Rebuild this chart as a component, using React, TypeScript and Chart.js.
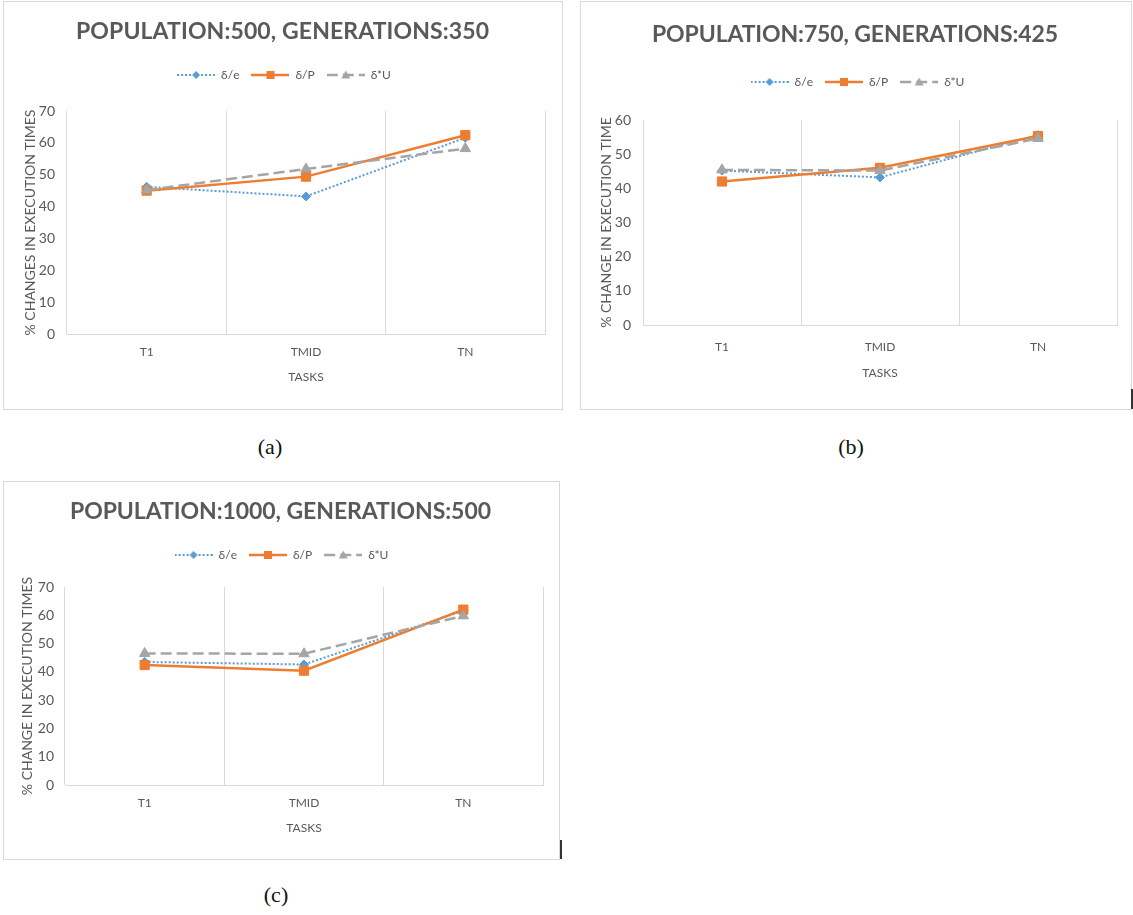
import React, { useEffect, useRef } from 'react';
import { Chart, registerables } from 'chart.js';

Chart.register(...registerables);

// ---------- data ----------
const categories = ['T1', 'TMID', 'TN'];
const seriesNames = ['δ/e', 'δ/P', 'δ*U'];
const xAxisTitle = 'TASKS';

const titleA = 'POPULATION:500, GENERATIONS:350';
const yTitleA = '% CHANGES IN EXECUTION TIMES';
const yMaxA = 70;
const eA = [46.2, 43.2, 61.6];
const pA = [45.0, 49.4, 62.4];
const uA = [45.2, 51.8, 58.2];

const titleB = 'POPULATION:750, GENERATIONS:425';
const yTitleB = '% CHANGE IN EXECUTION TIME';
const yMaxB = 60;
const eB = [45.2, 43.2, 55.6];
const pB = [42.0, 46.0, 55.3];
const uB = [45.4, 45.2, 54.6];

const titleC = 'POPULATION:1000, GENERATIONS:500';
const yTitleC = '% CHANGE IN EXECUTION TIMES';
const yMaxC = 70;
const eC = [43.5, 42.6, 61.6];
const pC = [42.4, 40.4, 62.0];
const uC = [46.5, 46.4, 59.8];

const yStep = 10;
const captions = ['(a)', '(b)', '(c)'];

// ---------- styles ----------
const FONT = "Lato, 'Open Sans', sans-serif";
const TEXT = '#595959';
const GRID = '#d9d9d9';

const seriesStyles = [
  { color: '#5B9BD5', width: 2, dash: [2, 2], point: 'rectRot', radius: 4.5, order: 2 },
  { color: '#ED7D31', width: 2.5, dash: [], point: 'rect', radius: 6.5, order: 1 },
  { color: '#A5A5A5', width: 2.5, dash: [11, 5], point: 'triangle', radius: 6, order: 0 },
];

function makeIcon(s: any) {
  const c = document.createElement('canvas');
  c.width = 38;
  c.height = 14;
  const g = c.getContext('2d')!;
  g.strokeStyle = s.color;
  g.lineWidth = s.width;
  g.setLineDash(s.dash);
  g.beginPath();
  g.moveTo(0, 7);
  g.lineTo(38, 7);
  g.stroke();
  g.setLineDash([]);
  g.fillStyle = s.color;
  g.beginPath();
  if (s.point === 'rectRot') {
    g.moveTo(19, 3);
    g.lineTo(23, 7);
    g.lineTo(19, 11);
    g.lineTo(15, 7);
  } else if (s.point === 'rect') {
    g.rect(15, 3, 8, 8);
  } else {
    g.moveTo(19, 2.5);
    g.lineTo(23.5, 10.5);
    g.lineTo(14.5, 10.5);
  }
  g.closePath();
  g.fill();
  return c;
}

const spacedTitle = {
  id: 'spacedTitle',
  afterDraw(chart: any, _args: any, opts: any) {
    const ctx = chart.ctx;
    ctx.save();
    ctx.font = `bold ${opts.size}px ${FONT}`;
    ctx.fillStyle = TEXT;
    ctx.textBaseline = 'middle';
    ctx.textAlign = 'left';
    (ctx as any).letterSpacing = '0px';
    const base = ctx.measureText(opts.text).width;
    const n = Array.from(opts.text as string).length;
    const ls = (opts.width - base) / (n - 1);
    (ctx as any).letterSpacing = ls + 'px';
    ctx.fillText(opts.text, opts.cx - opts.width / 2, opts.cy);
    ctx.restore();
  },
};

const specA = {
  title: titleA, yTitle: yTitleA, yMax: yMaxA, series: [eA, pA, uA],
  w: 558, h: 407, cx: 278.5, cy: 30, tw: 413, tsize: 23,
  padTop: 55, spacer: 20, padL: 19, padR: 17, yWidth: 44, yTitlePad: 0, yTickPad: 12,
  xHeight: 75, xTickPad: 10.8, xTitlePb: 24.8,
};
const specB = {
  title: titleB, yTitle: yTitleB, yMax: yMaxB, series: [eB, pB, uB],
  w: 550, h: 407, cx: 274, cy: 33, tw: 406, tsize: 23,
  padTop: 62, spacer: 22, padL: 17, padR: 14, yWidth: 45, yTitlePad: 1, yTickPad: 12,
  xHeight: 84, xTickPad: 14.8, xTitlePb: 28.8,
};
const specC = {
  title: titleC, yTitle: yTitleC, yMax: yMaxC, series: [eC, pC, uC],
  w: 555, h: 377, cx: 276.5, cy: 30, tw: 421, tsize: 23,
  padTop: 55, spacer: 16, padL: 16, padR: 16, yWidth: 45, yTitlePad: 0, yTickPad: 11,
  xHeight: 74, xTickPad: 10.8, xTitlePb: 23.8,
};

function buildConfig(spec: any): any {
  const icons = seriesStyles.map(makeIcon);
  return {
    type: 'line',
    data: {
      labels: categories,
      datasets: spec.series.map((vals: number[], i: number) => {
        const s = seriesStyles[i];
        return {
          label: seriesNames[i],
          data: vals,
          borderColor: s.color,
          backgroundColor: s.color,
          borderWidth: s.width,
          borderDash: s.dash,
          tension: 0,
          fill: false,
          pointStyle: s.point,
          pointRadius: s.radius,
          pointBackgroundColor: s.color,
          pointBorderColor: s.color,
          pointBorderWidth: 1,
          order: s.order,
        };
      }),
    },
    options: {
      responsive: false,
      animation: false,
      events: [],
      layout: { padding: { top: spec.padTop, left: spec.padL, right: spec.padR, bottom: 0 } },
      scales: {
        x: {
          type: 'category',
          offset: true,
          grid: { display: true, offset: true, color: GRID, lineWidth: 1, drawTicks: false },
          border: { display: true, color: GRID, width: 1 },
          ticks: { color: TEXT, font: { family: FONT, size: 12 }, padding: spec.xTickPad, maxRotation: 0 },
          title: {
            display: true, text: xAxisTitle, color: TEXT,
            font: { family: FONT, size: 12, lineHeight: 1.2 },
            padding: { top: 0, bottom: spec.xTitlePb },
          },
          afterFit: (s: any) => { s.height = spec.xHeight; },
        },
        y: {
          min: 0,
          max: spec.yMax,
          grid: { display: false, drawTicks: false },
          border: { display: false },
          ticks: { stepSize: yStep, color: TEXT, font: { family: FONT, size: 14 }, padding: spec.yTickPad },
          title: {
            display: true, text: spec.yTitle, color: TEXT,
            font: { family: FONT, size: 14, lineHeight: 1 },
            padding: { top: spec.yTitlePad, bottom: 0 },
          },
          afterFit: (s: any) => { s.width = spec.yWidth; },
        },
      },
      plugins: {
        tooltip: { enabled: false },
        title: { display: false },
        subtitle: {
          display: true, text: '', weight: 500,
          font: { size: 1, lineHeight: 0 },
          padding: { top: spec.spacer, bottom: 0 },
        },
        legend: {
          display: true,
          position: 'top',
          labels: {
            usePointStyle: true,
            pointStyleWidth: 38,
            padding: 12,
            color: TEXT,
            font: { family: FONT, size: 12 },
            generateLabels: (chart: any) =>
              chart.data.datasets.map((ds: any, i: number) => ({
                text: ds.label,
                pointStyle: icons[i],
                fillStyle: seriesStyles[i].color,
                strokeStyle: seriesStyles[i].color,
                fontColor: TEXT,
                lineWidth: 0,
                hidden: false,
                datasetIndex: i,
              })),
          },
        },
        spacedTitle: { text: spec.title, cx: spec.cx, cy: spec.cy, width: spec.tw, size: spec.tsize },
      },
    },
    plugins: [spacedTitle],
  };
}

function ChartPanel({ spec }: { spec: any }) {
  const ref = useRef<HTMLCanvasElement>(null);
  useEffect(() => {
    const chart = new Chart(ref.current!, buildConfig(spec));
    return () => chart.destroy();
  }, [spec]);
  return (
    <canvas
      ref={ref}
      width={spec.w}
      height={spec.h}
      style={{ display: 'block', width: spec.w, height: spec.h }}
    />
  );
}

const captionStyle: React.CSSProperties = {
  position: 'absolute',
  fontFamily: "'Liberation Serif', 'Times New Roman', serif",
  fontSize: 22,
  lineHeight: '24px',
  color: '#111',
  transform: 'translateX(-50%)',
  whiteSpace: 'nowrap',
};

export default function App() {
  return (
    <div style={{ position: 'absolute', left: 0, top: 0, width: 1133, height: 915, background: '#fff', overflow: 'hidden' }}>
      <div style={{ position: 'absolute', left: 3, top: 1, width: specA.w, height: specA.h, border: `1px solid ${GRID}` }}>
        <ChartPanel spec={specA} />
      </div>
      <div style={{ position: 'absolute', left: 580, top: 1, width: specB.w, height: specB.h, border: `1px solid ${GRID}` }}>
        <ChartPanel spec={specB} />
      </div>
      <div style={{ position: 'absolute', left: 3, top: 481, width: specC.w, height: specC.h, border: `1px solid ${GRID}` }}>
        <ChartPanel spec={specC} />
      </div>
      <div style={{ position: 'absolute', left: 1131, top: 389, width: 2, height: 20, background: '#333' }} />
      <div style={{ position: 'absolute', left: 560, top: 840, width: 2, height: 19, background: '#333' }} />
      <div style={{ ...captionStyle, left: 270, top: 435 }}>{captions[0]}</div>
      <div style={{ ...captionStyle, left: 851, top: 435 }}>{captions[1]}</div>
      <div style={{ ...captionStyle, left: 276, top: 883 }}>{captions[2]}</div>
    </div>
  );
}
